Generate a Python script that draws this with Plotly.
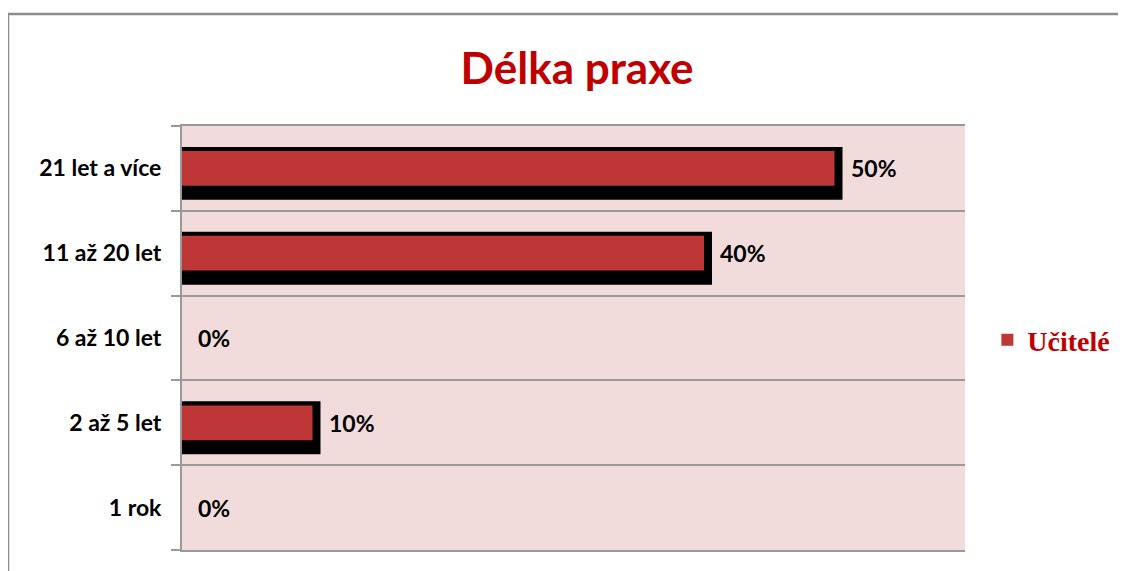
import plotly.graph_objects as go

kategorie = ["1 rok", "2 až 5 let", "6 až 10 let", "11 až 20 let", "21 let a více"]
ucitele = [0.0, 0.10, 0.0, 0.40, 0.50]
popisky = ["0%", "10%", "0%", "40%", "50%"]

fig = go.Figure()

# black "shadow" behind each bar
fig.add_trace(go.Bar(
    x=ucitele,
    y=kategorie,
    orientation="h",
    width=0.435,
    offset=-0.2765,
    marker=dict(color="black",
                line=dict(color="black", width=[16 if v > 0 else 0 for v in ucitele])),
    showlegend=False,
    hoverinfo="skip",
))

fig.add_trace(go.Bar(
    x=ucitele,
    y=kategorie,
    orientation="h",
    width=0.41,
    name="Učitelé",
    marker=dict(color="#BE3636", line=dict(width=0)),
))

for kat, v, txt in zip(kategorie, ucitele, popisky):
    fig.add_annotation(
        x=v, y=kat, text=txt, showarrow=False,
        xanchor="left", xshift=14,
        font=dict(family="Lato", size=23, color="black", weight="bold"),
    )

# outer chart border
fig.add_shape(type="rect", xref="paper", yref="paper",
              x0=-0.2222, y0=-0.2, x1=1.3, y1=1.2642,
              line=dict(color="#8c8c8c", width=2.5), layer="below")

fig.update_layout(
    width=1118,
    height=563,
    barmode="overlay",
    paper_bgcolor="white",
    plot_bgcolor="#F2DCDB",
    margin=dict(l=174, r=161, t=118, b=21),
    title=dict(text="<b>Délka praxe</b>", x=0.509, xanchor="center",
               y=0.893, yanchor="middle",
               font=dict(family="Lato", size=44, color="#C00000")),
    legend=dict(xref="container", x=0.876, y=0.495, yanchor="middle", xanchor="left",
                font=dict(family="Liberation Serif", size=28, color="#C00000", weight="bold"),
                itemwidth=30),
    xaxis=dict(range=[0, 0.6], showticklabels=False, showgrid=False,
               zeroline=False, ticks="", showline=True, mirror=True,
               linecolor="#999999", linewidth=2),
    yaxis=dict(
        type="category",
        tickson="boundaries",
        ticks="outside",
        ticklen=9,
        tickwidth=2,
        tickcolor="#999999",
        showgrid=True,
        gridcolor="#999999",
        gridwidth=2,
        showline=True,
        linecolor="#999999",
        linewidth=2,
        ticklabelstandoff=14,
        tickfont=dict(family="Lato", size=23, color="black", weight="bold"),
    ),
)

fig.write_html("out.html")
